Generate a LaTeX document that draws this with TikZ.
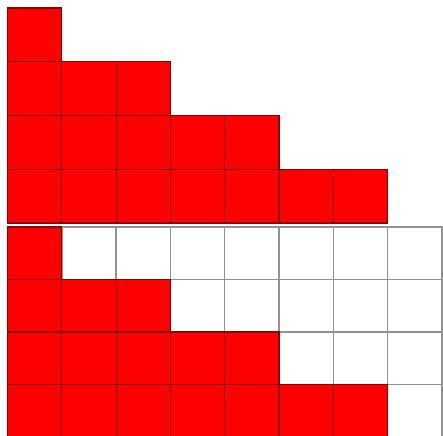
\documentclass[tikz,border=0pt]{standalone}
\begin{document}
\begin{tikzpicture}[x=1pt,y=-1pt]
\useasboundingbox (0,0) rectangle (443,435);
\def\cw{54.3}
\def\rh{53.75}
\def\gh{52.5}
% Staircase of odd numbers: 1, 3, 5, 7
\foreach \i in {1,...,4}{
  \pgfmathtruncatemacro{\n}{2*\i-1}
  \foreach \j in {1,...,\n}
    \draw[fill=red, draw=red!55!black, line width=1.2pt] ({7.5+(\j-1)*\cw},{8+(\i-1)*\rh}) rectangle ++(\cw,\rh);
}
% Empty 8 x 4 grid below
\foreach \i in {1,...,4}
  \foreach \j in {1,...,8}
    \draw[gray!85, line width=1.5pt] ({7.5+(\j-1)*\cw},{227+(\i-1)*\gh}) rectangle ++(\cw,\gh);
% Same staircase placed in the grid
\foreach \i in {1,...,4}{
  \pgfmathtruncatemacro{\n}{2*\i-1}
  \foreach \j in {1,...,\n}
    \draw[fill=red, draw=red!55!black, line width=1.2pt] ({7.5+(\j-1)*\cw},{227+(\i-1)*\gh}) rectangle ++(\cw,\gh);
}
\end{tikzpicture}
\end{document}
